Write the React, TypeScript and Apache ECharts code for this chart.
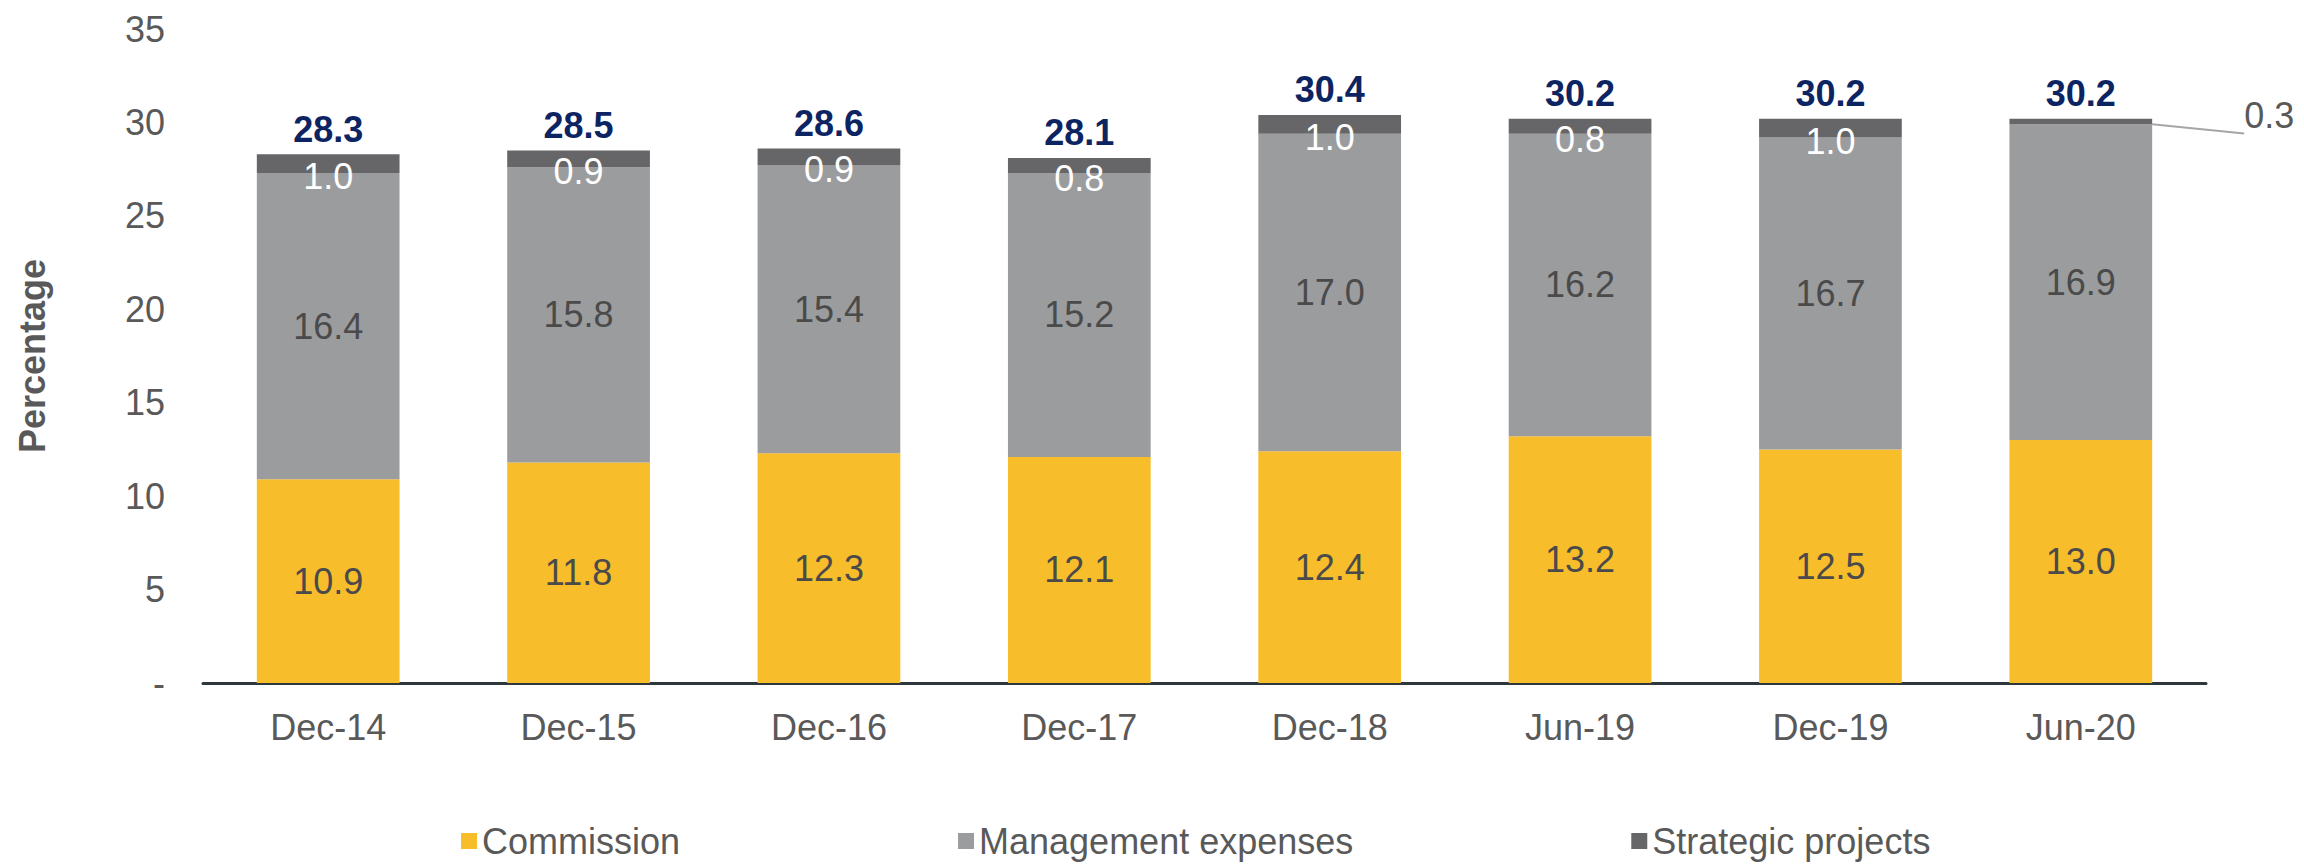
import React, { useEffect, useRef } from "react";
import * as echarts from "echarts";

const categories = ["Dec-14", "Dec-15", "Dec-16", "Dec-17", "Dec-18", "Jun-19", "Dec-19", "Jun-20"];
const commission = [10.9, 11.8, 12.3, 12.1, 12.4, 13.2, 12.5, 13.0];
const management = [16.4, 15.8, 15.4, 15.2, 17.0, 16.2, 16.7, 16.9];
const strategic = [1.0, 0.9, 0.9, 0.8, 1.0, 0.8, 1.0, 0.3];
const totals = [28.3, 28.5, 28.6, 28.1, 30.4, 30.2, 30.2, 30.2];
const yTicks = [0, 5, 10, 15, 20, 25, 30, 35];

const FONT = "'Liberation Sans', Arial, sans-serif";
const TXT = "#595959";

export default function App() {
  const ref = useRef<HTMLDivElement>(null);
  useEffect(() => {
    document.body.style.margin = "0";
    if (!ref.current) return;
    const chart = echarts.init(ref.current, null, { renderer: "svg" });
    const strategicData = strategic.map((v, i) =>
      i === strategic.length - 1
        ? {
            value: v,
            label: {
              show: true,
              position: "right",
              distance: 92,
              offset: [0, -6],
              color: TXT,
              formatter: (p: any) => p.value.toFixed(1),
            },
            labelLine: { show: true, lineStyle: { color: "#a6a6a6", width: 2 } },
          }
        : v
    );
    chart.setOption({
      animation: false,
      textStyle: { fontFamily: FONT },
      grid: { left: 203, right: 98, top: 29, bottom: 185 },
      legend: {
        data: ["Commission", "Management expenses", "Strategic projects"],
        left: 456,
        top: 818,
        icon: "rect",
        itemWidth: 16,
        itemHeight: 16,
        itemGap: 278,
        textStyle: { fontSize: 36, color: TXT, fontFamily: FONT },
      },
      xAxis: {
        type: "category",
        data: categories,
        axisLine: { show: true, lineStyle: { color: "#2e383c", width: 3 } },
        axisTick: { show: false },
        axisLabel: { fontSize: 36, color: TXT, margin: 26, fontFamily: FONT },
      },
      yAxis: {
        type: "value",
        min: yTicks[0],
        max: yTicks[yTicks.length - 1],
        interval: 5,
        name: "Percentage",
        nameLocation: "middle",
        nameGap: 153,
        nameTextStyle: { fontSize: 36, fontWeight: "bold", color: TXT, fontFamily: FONT },
        axisLine: { show: false },
        axisTick: { show: false },
        splitLine: { show: false },
        axisLabel: {
          fontSize: 36,
          color: TXT,
          margin: 38,
          fontFamily: FONT,
          formatter: (v: number) => (v === 0 ? "-" : String(v)),
        },
      },
      series: [
        {
          name: "Commission",
          type: "bar",
          stack: "a",
          barCategoryGap: "43%",
          data: commission,
          itemStyle: { color: "#F8BD2A" },
          label: {
            show: true,
            position: "inside",
            fontSize: 36,
            color: "#4a4a4a",
            formatter: (p: any) => p.value.toFixed(1),
          },
        },
        {
          name: "Management expenses",
          type: "bar",
          stack: "a",
          data: management,
          itemStyle: { color: "#9B9C9E" },
          label: {
            show: true,
            position: "inside",
            fontSize: 36,
            color: "#4a4a4a",
            formatter: (p: any) => p.value.toFixed(1),
          },
        },
        {
          name: "Strategic projects",
          type: "bar",
          stack: "a",
          data: strategicData,
          itemStyle: { color: "#666668" },
          label: {
            show: true,
            position: "inside",
            offset: [0, 13],
            fontSize: 36,
            color: "#ffffff",
            formatter: (p: any) => p.value.toFixed(1),
          },
        },
        {
          name: "Total",
          type: "bar",
          stack: "a",
          data: totals.map(() => 0),
          itemStyle: { color: "transparent" },
          label: {
            show: true,
            position: "top",
            distance: 7,
            fontSize: 36,
            fontWeight: "bold",
            color: "#0D2463",
            formatter: (p: any) => totals[p.dataIndex].toFixed(1),
          },
        },
      ],
    });
    return () => chart.dispose();
  }, []);
  return <div ref={ref} style={{ width: 2304, height: 868 }} />;
}
